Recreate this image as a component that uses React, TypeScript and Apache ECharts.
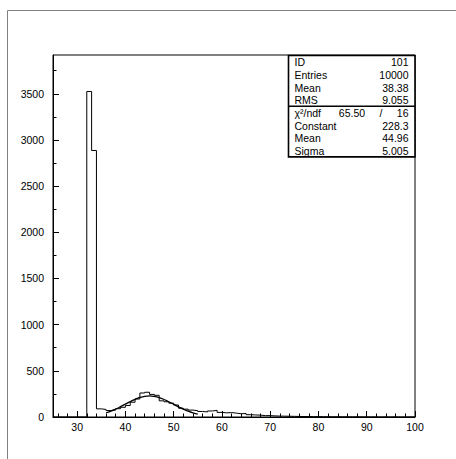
import React, { useEffect, useRef } from "react";
import * as echarts from "echarts";

// ---- data ----
const BIN_LOW = 25;
const BIN_WIDTH = 1;
// counts for bins [25,26), [26,27) ... [99,100)
const counts = [
  0, 0, 0, 0, 0, 0, 0, // 25..31
  3525, 2886, // 32, 33
  88, 82, 70, 75, 90, 105, 125, 160, 195, 260, // 34..43
  268, 245, 235, 175, 165, 150, 130, 95, 85, 75, // 44..53
  68, 60, 55, 65, 72, 50, 45, 48, 42, 35, // 54..63
  38, 25, 22, 20, 15, 15, 12, 10, 9, 8, // 64..73
  7, 6, 5, 5, 4, 4, 3, 3, 2, 3, // 74..83
  2, 2, 1, 2, 1, 1, 1, 1, 0, 1, // 84..93
  0, 1, 0, 0, 1, 0, // 94..99
];

const fitX = [36, 37, 38, 39, 40, 41, 42, 43, 44, 45, 46, 47, 48, 49, 50, 51, 52, 53, 54, 55];
const fitY = [46, 64.4, 86.8, 112.3, 139.7, 166.9, 191.7, 211.4, 224.1, 228.3, 223.4, 210.1, 189.8, 164.8, 137.5, 110.2, 84.9, 62.8, 44.7, 30.5];

const xMajorTicks = [30, 40, 50, 60, 70, 80, 90, 100];
const xMinorTicks = [26, 28, 32, 34, 36, 38, 42, 44, 46, 48, 52, 54, 56, 58, 62, 64, 66, 68, 72, 74, 76, 78, 82, 84, 86, 88, 92, 94, 96, 98];
const yMajorTicks = [0, 500, 1000, 1500, 2000, 2500, 3000, 3500];
const yMinorTicks = [250, 750, 1250, 1750, 2250, 2750, 3250, 3750];

const statLabels = ["ID", "Entries", "Mean", "RMS"];
const statValues = ["101", "10000", "38.38", "9.055"];
const chi2Label = "χ²/ndf";
const chi2Value = "65.50";
const ndfValue = "16";
const fitLabels = ["Constant", "Mean", "Sigma"];
const fitValues = ["228.3", "44.96", "5.005"];

const X_MIN = 25;
const X_MAX = 100;
const Y_MAX = 3920;

export default function App() {
  const ref = useRef<HTMLDivElement>(null);
  useEffect(() => {
    if (!ref.current) return;
    const chart = echarts.init(ref.current, null, { renderer: "svg" });

    const histPts: number[][] = [];
    histPts.push([BIN_LOW, 0]);
    counts.forEach((c, i) => histPts.push([BIN_LOW + i * BIN_WIDTH, c]));
    const xEnd = BIN_LOW + counts.length * BIN_WIDTH;
    histPts.push([xEnd, counts[counts.length - 1]]);
    histPts.push([xEnd, 0]);

    const fitPts = fitX.map((x, i) => [x, fitY[i]]);

    const FONT = "10.5px 'Liberation Sans', Arial, sans-serif";
    const gridL = 53, gridT = 55, gridW = 362, gridH = 362;
    const boxL = 288.5, boxR = 415, boxT = 55.5, rowH = 12.67;
    const textL = 294.5, textR = 408.5;

    const graphics: any[] = [];
    graphics.push({
      type: "rect",
      shape: { x: 7.5, y: 10.5, width: 600, height: 600 },
      style: { fill: "none", stroke: "#808080", lineWidth: 1 },
      silent: true,
    });
    const rows: { l: string; r: string }[] = [];
    statLabels.forEach((l, i) => rows.push({ l, r: statValues[i] }));
    rows.push({ l: chi2Label, r: ndfValue });
    fitLabels.forEach((l, i) => rows.push({ l, r: fitValues[i] }));
    const boxB = boxT + rowH * rows.length;
    graphics.push({
      type: "rect",
      shape: { x: boxL, y: boxT, width: boxR - boxL, height: boxB - boxT },
      style: { fill: "#fff", stroke: "#000", lineWidth: 1.6 },
      z: 10,
    });
    graphics.push({
      type: "line",
      shape: { x1: boxL, y1: boxT + rowH * 4, x2: boxR, y2: boxT + rowH * 4 },
      style: { stroke: "#000", lineWidth: 1.6 },
      z: 11,
    });
    rows.forEach((row, i) => {
      const cy = boxT + rowH * (i + 0.5) + 0.5;
      graphics.push({
        type: "text", z: 12,
        style: { text: row.l, x: textL, y: cy, font: FONT, fill: "#000", align: "left", verticalAlign: "middle" },
      });
      graphics.push({
        type: "text", z: 12,
        style: { text: row.r, x: textR, y: cy, font: FONT, fill: "#000", align: "right", verticalAlign: "middle" },
      });
      if (i === 4) {
        graphics.push({
          type: "text", z: 12,
          style: { text: chi2Value, x: 352, y: cy, font: FONT, fill: "#000", align: "center", verticalAlign: "middle" },
        });
        graphics.push({
          type: "text", z: 12,
          style: { text: "/", x: 381, y: cy, font: FONT, fill: "#000", align: "center", verticalAlign: "middle" },
        });
      }
    });

    const labelStyle = {
      color: "#000", fontSize: 10.5, fontFamily: "'Liberation Sans', Arial, sans-serif",
      formatter: (v: number) => String(v),
    };

    chart.setOption({
      animation: false,
      backgroundColor: "#fff",
      grid: {
        left: gridL, top: gridT, width: gridW, height: gridH,
        show: true, borderColor: "#000", borderWidth: 1, backgroundColor: "transparent",
      },
      xAxis: [
        {
          type: "value", min: X_MIN, max: X_MAX, position: "bottom",
          axisLine: { show: true, onZero: false, lineStyle: { color: "#000", width: 1 } },
          axisTick: { show: true, inside: true, length: 6, customValues: xMajorTicks, lineStyle: { color: "#000" } },
          axisLabel: { ...labelStyle, margin: 4, customValues: xMajorTicks, showMinLabel: true, showMaxLabel: true },
          splitLine: { show: false },
        },
        {
          type: "value", min: X_MIN, max: X_MAX, position: "bottom",
          axisLine: { show: false, onZero: false },
          axisTick: { show: true, inside: true, length: 3.5, customValues: xMinorTicks, lineStyle: { color: "#000" } },
          axisLabel: { show: false },
          splitLine: { show: false },
        },
      ],
      yAxis: [
        {
          type: "value", min: 0, max: Y_MAX, position: "left",
          axisLine: { show: true, onZero: false, lineStyle: { color: "#000", width: 1 } },
          axisTick: { show: true, inside: true, length: 6, customValues: yMajorTicks, lineStyle: { color: "#000" } },
          axisLabel: { ...labelStyle, margin: 9, customValues: yMajorTicks },
          splitLine: { show: false },
        },
        {
          type: "value", min: 0, max: Y_MAX, position: "left",
          axisLine: { show: false, onZero: false },
          axisTick: { show: true, inside: true, length: 3.5, customValues: yMinorTicks, lineStyle: { color: "#000" } },
          axisLabel: { show: false },
          splitLine: { show: false },
        },
      ],
      series: [
        {
          type: "line", name: "hist", xAxisIndex: 0, yAxisIndex: 0,
          data: histPts, step: "end", symbol: "none",
          lineStyle: { color: "#000", width: 1 },
          silent: true,
        },
        {
          type: "line", name: "fit", xAxisIndex: 0, yAxisIndex: 0,
          data: fitPts, smooth: true, symbol: "none",
          lineStyle: { color: "#000", width: 1.3 },
          silent: true,
        },
      ],
      graphic: graphics,
    });
    return () => chart.dispose();
  }, []);
  return (
    <div
      ref={ref}
      style={{ position: "absolute", left: 0, top: 0, width: 456, height: 459 }}
    />
  );
}
